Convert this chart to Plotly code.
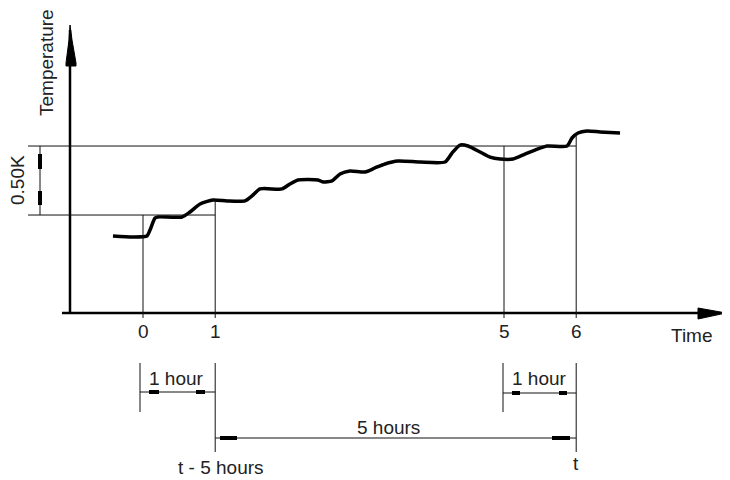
import plotly.graph_objects as go

# ---- data (time in hours relative to t-6h, temperature in K above baseline) ----
time_h = [-0.416, -0.139, 0.055, 0.097, 0.166, 0.208, 0.540, 0.651, 0.790, 0.970,
          1.163, 1.413, 1.510, 1.620, 1.925, 2.036, 2.147, 2.424, 2.493, 2.618,
          2.729, 2.867, 3.075, 3.213, 3.352, 3.532, 3.837, 4.183, 4.280, 4.391,
          4.501, 4.668, 4.806, 4.945, 5.125, 5.291, 5.429, 5.596, 5.873, 5.942,
          6.025, 6.150, 6.330, 6.607]
temp_k = [0.558, 0.551, 0.558, 0.601, 0.688, 0.696, 0.696, 0.732, 0.790, 0.819,
          0.812, 0.812, 0.848, 0.899, 0.899, 0.935, 0.964, 0.964, 0.949, 0.957,
          1.007, 1.029, 1.022, 1.051, 1.080, 1.101, 1.094, 1.094, 1.159, 1.217,
          1.210, 1.167, 1.130, 1.116, 1.116, 1.152, 1.181, 1.210, 1.210, 1.268,
          1.304, 1.319, 1.312, 1.304]
tick_times = [0, 1, 5, 6]
tick_labels = ["0", "1", "5", "6"]
band = [0.71, 1.21]          # 0.50 K reference band

# ---- page-pixel <-> data helpers (layout only) ----
SX, X0 = 72.2, 143.0
SY, Y0 = 138.0, 313.0
def X(px): return (px - X0) / SX
def Y(py): return (Y0 - py) / SY

FONT = "Liberation Sans, Arial, sans-serif"
shapes = []
def line(x0, y0, x1, y1, w=1, c="#111"):
    shapes.append(dict(type="line", xref="x", yref="y", x0=x0, y0=y0, x1=x1, y1=y1,
                       line=dict(color=c, width=w)))
def poly(pts):
    d = "M " + " L ".join(f"{X(a)},{Y(b)}" for a, b in pts) + " Z"
    shapes.append(dict(type="path", xref="x", yref="y", path=d,
                       fillcolor="black", line=dict(color="black", width=1)))

# axes
line(X(70), 0, X(70), Y(30), w=2.5, c="black")
line(X(62), 0, X(700), 0, w=2.5, c="black")
poly([(70, 25), (72, 40), (76, 63), (76, 66), (66, 66), (66, 63), (69, 40)])
poly([(698, 308), (698, 319), (726, 313)])

# reference lines
line(X(28), band[1], tick_times[3], band[1])
line(X(28), band[0], tick_times[1], band[0])
line(tick_times[0], band[0], tick_times[0], Y(318))
line(tick_times[1], temp_k[9], tick_times[1], Y(318))
line(tick_times[2], band[1], tick_times[2], Y(318))
line(tick_times[3], temp_k[40], tick_times[3], Y(318))

# 0.50K dimension
line(X(40), band[0], X(40), band[1])
line(X(40), Y(154), X(40), Y(169), w=4, c="black")
line(X(40), Y(191), X(40), Y(205), w=4, c="black")

# bottom dimension brackets
line(X(140), Y(363), X(140), Y(412))
line(tick_times[1], Y(363), tick_times[1], Y(452))
line(X(140), Y(392), tick_times[1], Y(392))
line(X(149), Y(392), X(159), Y(392), w=4, c="black")
line(X(196), Y(392), X(205), Y(392), w=4, c="black")

line(X(503), Y(363), X(503), Y(412))
line(tick_times[3], Y(363), tick_times[3], Y(452))
line(X(503), Y(393), tick_times[3], Y(393))
line(X(512), Y(393), X(520), Y(393), w=4, c="black")
line(X(559), Y(393), X(567), Y(393), w=4, c="black")

line(tick_times[1], Y(438), tick_times[3], Y(438))
line(X(220), Y(438), X(237), Y(438), w=4, c="black")
line(X(552), Y(438), X(570), Y(438), w=4, c="black")

annotations = []
def text(s, x, y, angle=0):
    annotations.append(dict(text=s, x=x, y=y, xref="x", yref="y", showarrow=False,
                            textangle=angle, font=dict(family=FONT, size=19, color="#222"),
                            xanchor="center", yanchor="middle"))

for t, lab in zip(tick_times, tick_labels):
    text(lab, t, Y(331))
text("Time", X(692), Y(335))
text("Temperature", X(46), Y(63), angle=-90)
text("0.50K", X(17), Y(180), angle=-90)
text("1 hour", X(176), Y(378))
text("1 hour", X(539), Y(378))
text("5 hours", X(388), Y(427))
text("t - 5 hours", X(221), Y(467))
text("t", X(576), Y(463))

fig = go.Figure(go.Scatter(x=time_h, y=temp_k, mode="lines",
                           line=dict(color="black", width=3.5, shape="spline", smoothing=0.6),
                           hoverinfo="skip"))
# the page body has an 8px margin: the figure covers page pixels 8..730 / 8..480
fig.update_layout(width=722, height=472, margin=dict(l=0, r=0, t=0, b=0),
                  paper_bgcolor="white", plot_bgcolor="white", showlegend=False,
                  xaxis=dict(range=[X(8), X(730)], visible=False, fixedrange=True),
                  yaxis=dict(range=[Y(480), Y(8)], visible=False, fixedrange=True),
                  shapes=shapes, annotations=annotations)
fig.write_html("out.html")
